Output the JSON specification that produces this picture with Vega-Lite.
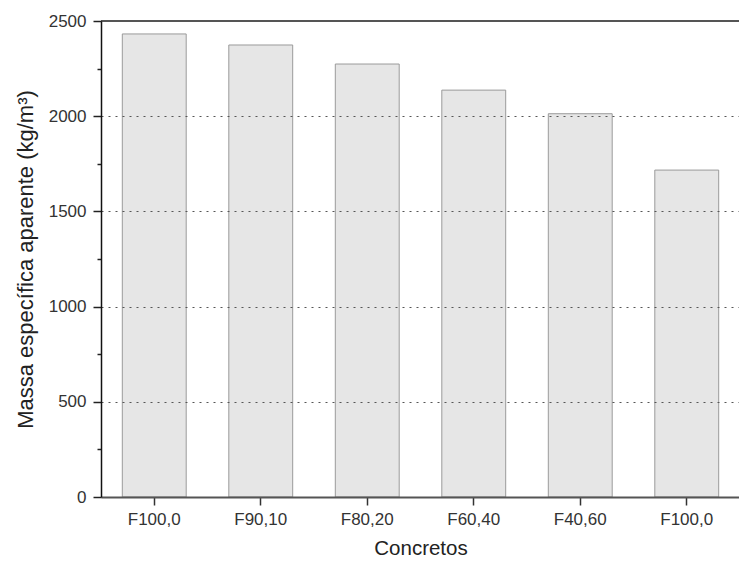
{
  "$schema": "https://vega.github.io/schema/vega-lite/v6.json",
  "autosize": {"type": "none"},
  "padding": {"left": 101, "top": 21, "right": 0, "bottom": 68},
  "width": 639,
  "height": 476,
  "background": "white",
  "config": {"view": {"stroke": null}, "font": "Liberation Sans"},
  "data": {
    "values": [
      {"concreto": "F100,0", "massa": 2432},
      {"concreto": "F90,10", "massa": 2374},
      {"concreto": "F80,20", "massa": 2274},
      {"concreto": "F60,40", "massa": 2137},
      {"concreto": "F40,60", "massa": 2013},
      {"concreto": "F100,0 ", "massa": 1717}
    ]
  },
  "layer": [
    {
      "mark": {"type": "bar", "fill": "#e6e6e6", "stroke": "#9a9a9a", "strokeWidth": 1},
      "encoding": {
        "x": {
          "field": "concreto",
          "type": "nominal",
          "sort": null,
          "scale": {"paddingInner": 0.4, "paddingOuter": 0.2},
          "axis": {
            "title": "Concretos",
            "titleFont": "Liberation Sans",
            "titleFontSize": 20.5,
            "titleFontWeight": "normal",
            "titleColor": "#222",
            "titlePadding": 11,
            "labelFont": "Liberation Sans",
            "labelFontSize": 17,
            "labelColor": "#333",
            "labelAngle": 0,
            "labelPadding": 6,
            "tickSize": 8,
            "tickWidth": 1.5,
            "tickColor": "#333",
            "domainColor": "#555",
            "domainWidth": 2,
            "zindex": 1
          }
        },
        "y": {
          "field": "massa",
          "type": "quantitative",
          "scale": {"domain": [0, 2500], "nice": false},
          "axis": {
            "title": "Massa específica aparente (kg/m³)",
            "titleFont": "Liberation Sans",
            "titleFontSize": 22,
            "titleFontWeight": "normal",
            "titleColor": "#222",
            "titlePadding": 11,
            "values": [0, 250, 500, 750, 1000, 1250, 1500, 1750, 2000, 2250, 2500],
            "labelExpr": "datum.value % 500 === 0 ? datum.label : ''",
            "format": "d",
            "labelFont": "Liberation Sans",
            "labelFontSize": 17,
            "labelColor": "#333",
            "labelPadding": 7,
            "tickSize": {"condition": {"test": "datum.value % 500 !== 0", "value": 4}, "value": 8},
            "tickWidth": 1.5,
            "tickColor": "#222",
            "domainColor": "#111",
            "domainWidth": 1.5,
            "grid": true,
            "gridColor": "#555",
            "gridDash": [2, 5],
            "gridWidth": 1,
            "gridOpacity": {"condition": {"test": "datum.value % 500 === 0 && datum.value > 0 && datum.value < 2500", "value": 1}, "value": 0},
            "zindex": 1
          }
        }
      }
    },
    {
      "mark": {"type": "rule", "color": "#555", "strokeWidth": 2},
      "encoding": {"y": {"datum": 2500}}
    }
  ]
}
